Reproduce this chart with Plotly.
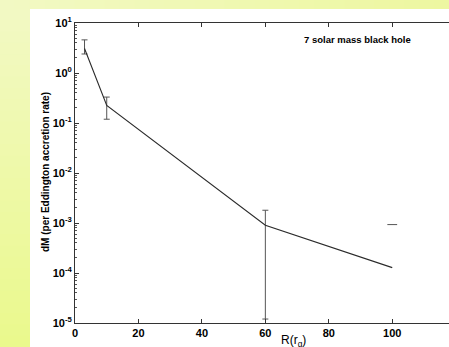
import plotly.graph_objects as go

# ---- data ----
radius = [3, 10, 60, 100]
dm = [3.1, 0.225, 9.0e-4, 1.28e-4]
err_x = [3, 10, 60]
err_y = [3.1, 0.225, 9.0e-4]
err_upper = [4.6, 0.33, 1.8e-3]
err_lower = [2.4, 0.119, 1.2e-5]
lone_cap_x = [100]
lone_cap_y = [9.3e-4]
ytick_vals = [1e-5, 1e-4, 1e-3, 1e-2, 1e-1, 1e0, 1e1]
ytick_text = ["10<sup>-5</sup>", "10<sup>-4</sup>", "10<sup>-3</sup>", "10<sup>-2</sup>",
              "10<sup>-1</sup>", "10<sup>0</sup>", "10<sup>1</sup>"]
xtick_vals = [0, 20, 40, 60, 80, 100]
title_text = "7 solar mass black hole"
ylabel = "dM (per Eddington accretion rate)"
xlabel = "R(r<sub>g</sub>)"

W, H = 449, 347
L, R, T, B = 75, 0, 23, 24
PW, PH = W - L - R, H - T - B
TOPBAND = 9
LEFTBAND = 30


def px(x):
    return (x - L) / PW


def py(y):
    return (H - B - y) / PH


def lerp(c1, c2, t):
    return "rgb(%d,%d,%d)" % tuple(round(a + (b - a) * t) for a, b in zip(c1, c2))


shapes = []
# background gradient pieces
top_left = (242, 249, 196)
bot_left = (234, 249, 140)
top_right = (237, 247, 160)
n = 30
for i in range(n):
    y0 = TOPBAND + (H - TOPBAND) * i / n
    y1 = TOPBAND + (H - TOPBAND) * (i + 1) / n + 2
    shapes.append(dict(type="rect", xref="paper", yref="paper", layer="below",
                       x0=px(0), x1=px(LEFTBAND), y0=py(y0), y1=py(y1),
                       line=dict(width=0), fillcolor=lerp(top_left, bot_left, (i + 0.5) / n)))
for i in range(n):
    x0 = W * i / n
    x1 = W * (i + 1) / n + 2
    shapes.append(dict(type="rect", xref="paper", yref="paper", layer="below",
                       x0=px(x0), x1=px(x1), y0=py(TOPBAND), y1=py(0),
                       line=dict(width=0), fillcolor=lerp(top_left, top_right, (i + 0.5) / n)))
shapes.append(dict(type="rect", xref="paper", yref="paper", layer="below",
                   x0=px(LEFTBAND), x1=px(W + 2), y0=py(H + 2), y1=py(TOPBAND),
                   line=dict(width=0), fillcolor="white"))

fig = go.Figure()
fig.add_trace(go.Scatter(
    x=err_x, y=err_y, mode="markers", marker=dict(size=1, color="rgba(0,0,0,0)"),
    error_y=dict(type="data", symmetric=False,
                 array=[u - v for u, v in zip(err_upper, err_y)],
                 arrayminus=[v - l for v, l in zip(err_y, err_lower)],
                 color="#555555", thickness=1, width=3),
    showlegend=False, hoverinfo="skip"))
fig.add_trace(go.Scatter(x=radius, y=dm, mode="lines",
                         line=dict(color="#2a2a2a", width=1.1), showlegend=False))
fig.add_trace(go.Scatter(x=lone_cap_x, y=lone_cap_y, mode="markers",
                         marker=dict(symbol="line-ew", size=7,
                                     line=dict(color="#555555", width=1)),
                         showlegend=False))

font_tick = dict(family="Liberation Sans, Arial, sans-serif", size=11, color="black", weight="bold")

fig.update_layout(
    width=W, height=H,
    margin=dict(l=L, r=R, t=T, b=B, autoexpand=False),
    paper_bgcolor="white", plot_bgcolor="rgba(0,0,0,0)",
    shapes=shapes,
    xaxis=dict(range=[0, 120 * PW / 380.7], tickvals=xtick_vals, ticks="inside", ticklen=4,
               tickcolor="#333", linecolor="#333", linewidth=1, showline=True, mirror="ticks",
               showgrid=False, zeroline=False, tickfont=font_tick),
    yaxis=dict(type="log", range=[-5, 1], tickvals=ytick_vals, ticktext=ytick_text,
               ticks="inside", ticklen=4, tickcolor="#333", linecolor="#333", linewidth=1,
               showline=True, showgrid=False, zeroline=False, tickfont=font_tick,
               minor=dict(ticks="inside", ticklen=2, tickcolor="#555", dtick="D1", showgrid=False)),
    annotations=[
        dict(text=title_text, xref="paper", yref="paper", x=px(302), y=py(39),
             xanchor="left", yanchor="middle", showarrow=False,
             font=dict(family="Liberation Sans, Arial, sans-serif", size=9.5, color="black", weight="bold")),
        dict(text=ylabel, xref="paper", yref="paper", x=px(45), y=py(172),
             xanchor="center", yanchor="middle", textangle=-90, showarrow=False,
             font=dict(family="Liberation Sans, Arial, sans-serif", size=10, color="black", weight="bold")),
        dict(text=xlabel, xref="paper", yref="paper", x=px(293), y=py(341),
             xanchor="center", yanchor="middle", showarrow=False,
             font=dict(family="Liberation Sans, Arial, sans-serif", size=12, color="black")),
    ],
)
fig.write_html("out.html", config={"displayModeBar": False},
               post_script="document.body.style.margin='0';document.body.style.overflow='hidden';")
